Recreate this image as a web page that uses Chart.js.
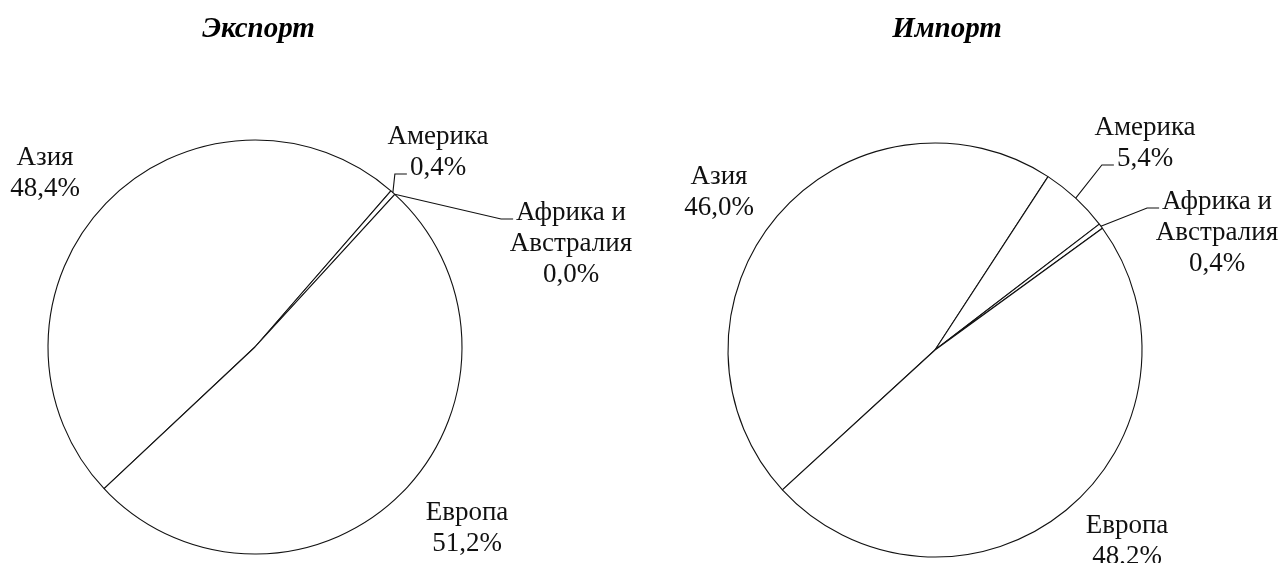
<!DOCTYPE html>
<html>
<head>
<meta charset="utf-8">
<script src="https://cdn.jsdelivr.net/npm/chart.js@4.4.1/dist/chart.umd.min.js"></script>
<style>
  html, body { margin: 0; padding: 0; background: #ffffff; }
  #wrap { position: relative; width: 1278px; height: 563px; overflow: hidden; }
  .pane { position: absolute; top: 0; width: 639px; height: 563px; }
  #paneL { left: 0; }
  #paneR { left: 639px; }
</style>
</head>
<body>
<div id="wrap">
  <div class="pane" id="paneL"><canvas id="cExport" width="639" height="563"></canvas></div>
  <div class="pane" id="paneR"><canvas id="cImport" width="639" height="563"></canvas></div>
</div>
<script>
// ---- data ----
const categories = ['Азия', 'Америка', 'Африка и Австралия', 'Европа'];
const exportValues = [48.4, 0.4, 0.0, 51.2];
const importValues = [46.0, 5.4, 0.4, 48.2];
const chartTitles = ['Экспорт', 'Импорт'];

// ---- layout / style (not data) ----
const FONT = "'Liberation Serif', 'Times New Roman', serif";
const exportLabelLayout = [
  { dx: -210, dy: -182, leader: false },
  { dx: 183,  dy: -203, leader: true, attach: 1 },
  { dx: 316,  dy: -127, leader: true, attach: 0 },
  { dx: 212,  dy: 173,  leader: false }
];
const importLabelLayout = [
  { dx: -216, dy: -166, leader: false },
  { dx: 210,  dy: -215, leader: true, attach: 1 },
  { dx: 282,  dy: -141, leader: true, attach: 0 },
  { dx: 192,  dy: 183,  leader: false }
];

function splitName(name) {
  const i = name.indexOf(' и ');
  if (i >= 0) return [name.slice(0, i + 2), name.slice(i + 3)];
  return [name];
}
function fmtPct(v) { return v.toFixed(1).replace('.', ',') + '%'; }

const pieLabelsPlugin = {
  id: 'pieLabels',
  afterDraw(chart, args, opts) {
    const ctx = chart.ctx;
    const meta = chart.getDatasetMeta(0);
    const values = chart.data.datasets[0].data;
    const names = chart.data.labels;
    const arc0 = meta.data[0];
    const cx = arc0.x, cy = arc0.y;
    ctx.save();
    // title
    ctx.fillStyle = '#000';
    ctx.font = 'italic bold 29px ' + FONT;
    ctx.textAlign = 'center';
    ctx.textBaseline = 'alphabetic';
    ctx.fillText(opts.title, cx + opts.titleDx, opts.titleBaseline);
    // labels
    ctx.font = '27px ' + FONT;
    const lh = 31;
    meta.data.forEach((arc, i) => {
      const lay = opts.layout[i];
      const lines = splitName(names[i]).concat([fmtPct(values[i])]);
      const tx = cx + lay.dx;
      const by = cy + lay.dy;
      ctx.fillStyle = '#111';
      ctx.textAlign = 'center';
      lines.forEach((ln, k) => ctx.fillText(ln, tx, by + k * lh));
      if (lay.leader) {
        const p = arc.getProps(['x', 'y', 'startAngle', 'endAngle', 'outerRadius'], true);
        const mid = (p.startAngle + p.endAngle) / 2;
        const sx = p.x + Math.cos(mid) * p.outerRadius;
        const sy = p.y + Math.sin(mid) * p.outerRadius;
        const attachLine = lines[lay.attach];
        const w = ctx.measureText(attachLine).width;
        const ex = tx - w / 2 - 3;
        const ey = by + lay.attach * lh - 1;
        const elx = ex - 12;
        ctx.strokeStyle = '#111';
        ctx.lineWidth = 1.1;
        ctx.beginPath();
        ctx.moveTo(sx, sy);
        ctx.lineTo(elx, ey);
        ctx.lineTo(ex, ey);
        ctx.stroke();
      }
    });
    ctx.restore();
  }
};

function makePie(canvasId, values, rotation, padding, title, titleDx, layout) {
  return new Chart(document.getElementById(canvasId), {
    type: 'pie',
    data: {
      labels: categories,
      datasets: [{
        data: values,
        backgroundColor: '#ffffff',
        borderColor: '#111111',
        borderWidth: 1.1,
        hoverOffset: 0,
        radius: 207,
        clip: false
      }]
    },
    options: {
      responsive: false,
      animation: false,
      devicePixelRatio: 1,
      rotation: rotation,
      layout: { padding: padding },
      events: [],
      plugins: {
        legend: { display: false },
        tooltip: { enabled: false },
        title: { display: false },
        pieLabels: { title: title, titleDx: titleDx, titleBaseline: 37, layout: layout }
      }
    },
    plugins: [pieLabelsPlugin]
  });
}

makePie('cExport', exportValues, 226.8, { left: 0, right: 129, top: 131, bottom: 0 }, chartTitles[0], 3.5, exportLabelLayout);
makePie('cImport', importValues, 227.5, { left: 0, right: 47, top: 137, bottom: 0 }, chartTitles[1], 12, importLabelLayout);
</script>
</body>
</html>
